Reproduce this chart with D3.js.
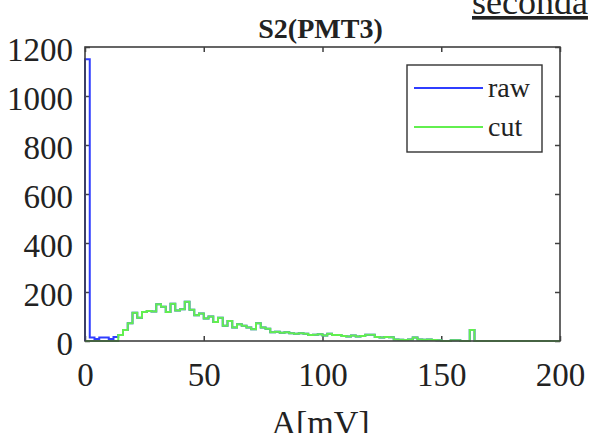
<!DOCTYPE html>
<html>
<head>
<meta charset="utf-8">
<script src="https://cdn.jsdelivr.net/npm/d3@7"></script>
<style>
  html, body { margin: 0; padding: 0; background: #fff; }
  svg { display: block; }
  svg text { font-family: "Liberation Serif", "Times New Roman", serif; }
</style>
</head>
<body>
<svg id="chart" width="589" height="433"></svg>
<script>
// Amplitude histogram, 2 mV bins from 0 to 200 mV
const binWidth = 2;
const binStarts = d3.range(0, 200, binWidth);

// counts for the "cut" selection, one per bin
const cutCounts = [
  0, 0, 0, 0, 0, 0, 0, 25, 45, 72,
  115, 95, 118, 122, 120, 150, 140, 118, 152, 125,
  130, 160, 128, 105, 112, 92, 100, 78, 95, 62,
  82, 55, 68, 62, 55, 48, 72, 55, 50, 36,
  38, 34, 36, 32, 30, 32, 30, 24, 26, 28,
  22, 30, 25, 24, 20, 18, 22, 18, 20, 26,
  26, 16, 14, 16, 15, 6, 5, 4, 6, 14,
  6, 5, 6, 4, 3, 0, 0, 3, 3, 0,
  0, 45, 0, 0, 0, 0, 0, 0, 0, 0,
  0, 0, 0, 0, 0, 0, 0, 0, 0, 0
];

// raw counts: pedestal peak and low-amplitude noise, identical to cut above 14 mV
const rawLow = [1150, 14, 8, 14, 14, 8, 16];
const rawCounts = cutCounts.map((c, i) => i < rawLow.length ? rawLow[i] : c);

const xTicks = [0, 50, 100, 150, 200];
const yTicks = [0, 200, 400, 600, 800, 1000, 1200];
const seriesNames = ["raw", "cut"];
const seriesColors = ["#2f3dff", "#62ef4f"];

const svg = d3.select("#chart");
const m = { left: 85, right: 560, top: 47, bottom: 341 };

const x = d3.scaleLinear().domain([0, 200]).range([m.left, m.right]);
const y = d3.scaleLinear().domain([0, 1200]).range([m.bottom, m.top]);

const serif = "Liberation Serif";
const axisColor = "#404040";
const fmt = d3.format("d");

// heading text at the top right, partly outside the page
svg.append("text")
  .attr("x", 472).attr("y", 14)
  .style("font-family", serif).attr("font-size", 36)
  .attr("fill", "#222")
  .attr("text-decoration", "underline")
  .text("seconda");

// title
svg.append("text")
  .attr("x", (m.left + m.right) / 2 - 2).attr("y", 38)
  .attr("text-anchor", "middle")
  .style("font-family", serif).attr("font-size", 28).attr("font-weight", "bold")
  .attr("fill", "#222")
  .text("S2(PMT3)");

// stair outline for one histogram
function stairPoints(counts) {
  const pts = [[0, 0]];
  counts.forEach((c, i) => pts.push([binStarts[i], c]));
  pts.push([binStarts[binStarts.length - 1] + binWidth, counts[counts.length - 1]]);
  return pts;
}
const stair = d3.line()
  .x(d => x(d[0]))
  .y(d => y(d[1]))
  .curve(d3.curveStepAfter);

// axes with inward ticks on all four sides
const tickLen = 5;
function styleAxis(g) {
  g.attr("font-family", null);
  g.select(".domain").remove();
  g.selectAll(".tick line").attr("stroke", axisColor).attr("stroke-width", 1.5);
  g.selectAll(".tick text")
    .style("font-family", serif).attr("font-size", 33).attr("fill", "#222");
}

svg.append("g")
  .attr("transform", `translate(0,${m.bottom})`)
  .call(d3.axisBottom(x).tickValues(xTicks).tickFormat(fmt).tickSizeInner(-tickLen).tickSizeOuter(0))
  .call(styleAxis)
  .call(g => g.selectAll(".tick text").attr("dy", "0.71em").attr("y", 22));

svg.append("g")
  .attr("transform", `translate(0,${m.top})`)
  .call(d3.axisTop(x).tickValues(xTicks).tickSizeInner(-tickLen).tickSizeOuter(0).tickFormat(""))
  .call(styleAxis);

svg.append("g")
  .attr("transform", `translate(${m.left},0)`)
  .call(d3.axisLeft(y).tickValues(yTicks).tickFormat(fmt).tickSizeInner(-tickLen).tickSizeOuter(0))
  .call(styleAxis)
  .call(g => g.selectAll(".tick text").attr("x", -12).attr("dy", "0.42em"));

svg.append("g")
  .attr("transform", `translate(${m.right},0)`)
  .call(d3.axisRight(y).tickValues(yTicks).tickSizeInner(-tickLen).tickSizeOuter(0).tickFormat(""))
  .call(styleAxis);

// histogram outlines
[rawCounts, cutCounts].forEach((counts, k) => {
  svg.append("path")
    .datum(stairPoints(counts))
    .attr("d", stair)
    .attr("fill", "none")
    .attr("stroke", seriesColors[k])
    .attr("stroke-width", 2);
});

// plot frame
svg.append("rect")
  .attr("x", m.left).attr("y", m.top)
  .attr("width", m.right - m.left).attr("height", m.bottom - m.top)
  .attr("fill", "none").attr("stroke", axisColor).attr("stroke-width", 1.6);

// x axis label
svg.append("text")
  .attr("x", (m.left + m.right) / 2 - 2).attr("y", 434)
  .attr("text-anchor", "middle")
  .style("font-family", serif).attr("font-size", 34).attr("fill", "#222")
  .text("A[mV]");

// legend
const lg = svg.append("g");
lg.append("rect")
  .attr("x", 407).attr("y", 65).attr("width", 135).attr("height", 87)
  .attr("fill", "#fff").attr("stroke", "#333").attr("stroke-width", 1.4);
seriesNames.forEach((name, i) => {
  const ly = 88 + i * 39;
  lg.append("line")
    .attr("x1", 414).attr("x2", 483).attr("y1", ly).attr("y2", ly)
    .attr("stroke", seriesColors[i]).attr("stroke-width", 2);
  lg.append("text")
    .attr("x", 488).attr("y", ly + 9)
    .style("font-family", serif).attr("font-size", 28).attr("fill", "#222")
    .text(name);
});
</script>
</body>
</html>
